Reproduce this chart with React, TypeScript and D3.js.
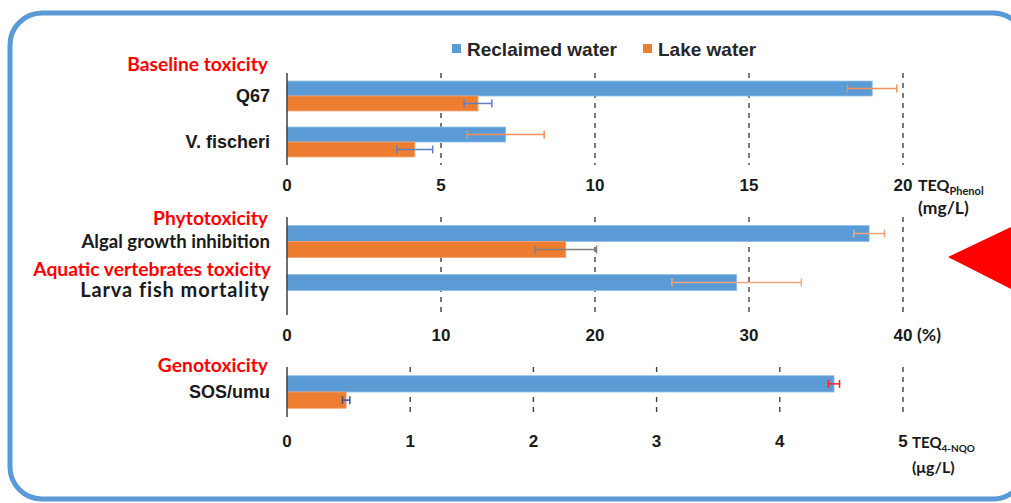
import * as d3 from "d3";

const seriesNames = ["Reclaimed water", "Lake water"];

// Baseline toxicity, TEQ phenol (mg/L)
const baselineCategories = ["Q67", "V. fischeri"];
const baselineReclaimed = [19.0, 7.1];
const baselineReclaimedSd = [0.8, 1.25];
const baselineLake = [6.2, 4.15];
const baselineLakeSd = [0.45, 0.58];
const baselineTicks = [0, 5, 10, 15, 20];

// Phytotoxicity / aquatic vertebrates toxicity (%)
const effectCategories = ["Algal growth inhibition", "Larva fish mortality"];
const effectReclaimed = [37.8, 29.2];
const effectReclaimedSd = [1.0, 4.2];
const effectLake = [18.1, 0];
const effectLakeSd = [2.0, 0];
const effectTicks = [0, 10, 20, 30, 40];

// Genotoxicity, TEQ 4-NQO (ug/L)
const genoCategories = ["SOS/umu"];
const genoReclaimed = [4.44];
const genoReclaimedSd = [0.045];
const genoLake = [0.48];
const genoLakeSd = [0.03];
const genoTicks = [0, 1, 2, 3, 4, 5];

const W = 1011;
const H = 503;
const X0 = 287;
const X1 = 903;
const BLUE = "#5b9bd5";
const ORANGE = "#ed7d31";
const ARIAL = "'Liberation Sans', Arial, sans-serif";
const CALIBRI = "Lato, 'Open Sans', sans-serif";

// the larva label is set larger than the others in the original
const labelSize: Record<string, number> = { "Larva fish mortality": 20 };
const labelSpacing: Record<string, number> = { "Larva fish mortality": 0.9 };

type PanelProps = {
  cats: string[];
  rec: number[];
  recSd: number[];
  lake: number[];
  lakeSd: number[];
  ticks: number[];
  top: number;
  bottom: number;
  tickY: number;
  recErr: string;
  lakeErr: string;
  labelFont: string;
};

function Panel(p: PanelProps) {
  const x = d3
    .scaleLinear()
    .domain([0, d3.max(p.ticks) as number])
    .range([X0, X1]);
  const y = d3
    .scaleBand()
    .domain(p.cats)
    .range([p.top, p.bottom])
    .paddingInner(0.35)
    .paddingOuter(0.175);
  const ys = d3.scaleBand().domain(seriesNames).range([0, y.bandwidth()]);

  const rows = p.cats.map((c, i) => ({
    cat: c,
    vals: [
      { s: seriesNames[0], v: p.rec[i], sd: p.recSd[i], fill: BLUE, edge: "#8fbde8", err: p.recErr },
      { s: seriesNames[1], v: p.lake[i], sd: p.lakeSd[i], fill: ORANGE, edge: "#f3a06c", err: p.lakeErr },
    ],
  }));

  return (
    <g>
      {p.ticks
        .filter((t) => t > 0)
        .map((t) => (
          <line
            key={"g" + t}
            x1={x(t)}
            x2={x(t)}
            y1={p.top}
            y2={p.bottom}
            stroke="#404040"
            strokeWidth={1.4}
            strokeDasharray="5,5"
          />
        ))}
      {rows.map((r) => (
        <g key={r.cat} transform={`translate(0,${y(r.cat)})`}>
          {r.vals.map((d) =>
            d.v > 0 ? (
              <g key={d.s}>
                <rect
                  x={x(0)}
                  y={ys(d.s)}
                  width={x(d.v) - x(0)}
                  height={ys.bandwidth()}
                  fill={d.fill}
                  stroke={d.edge}
                  strokeWidth={0.8}
                />
                {d.sd > 0 && (
                  <g
                    stroke={d.err}
                    strokeWidth={1.5}
                    transform={`translate(0,${(ys(d.s) as number) + ys.bandwidth() / 2})`}
                  >
                    <line x1={x(d.v - d.sd)} x2={x(d.v + d.sd)} y1={0} y2={0} />
                    <line x1={x(d.v - d.sd)} x2={x(d.v - d.sd)} y1={-4} y2={4} />
                    <line x1={x(d.v + d.sd)} x2={x(d.v + d.sd)} y1={-4} y2={4} />
                  </g>
                )}
              </g>
            ) : null
          )}
          <text
            x={270}
            y={y.bandwidth() / 2}
            dy="0.35em"
            textAnchor="end"
            fontFamily={p.labelFont}
            fontWeight="bold"
            fontSize={labelSize[r.cat] ?? (p.labelFont === ARIAL ? 18 : 18.6)}
            letterSpacing={labelSpacing[r.cat] ?? 0}
            fill="#1a1a1a"
          >
            {r.cat}
          </text>
        </g>
      ))}
      <line x1={X0} x2={X0} y1={p.top} y2={p.bottom} stroke="#404040" strokeWidth={1.5} />
      {p.ticks.map((t) => (
        <text
          key={"t" + t}
          x={x(t)}
          y={p.tickY}
          dy="0.35em"
          textAnchor="middle"
          fontFamily={ARIAL}
          fontWeight="bold"
          fontSize={17}
          fill="#1a1a1a"
        >
          {t}
        </text>
      ))}
    </g>
  );
}

function Header({ x, y, text }: { x: number; y: number; text: string }) {
  return (
    <text
      x={x}
      y={y}
      dy="0.35em"
      textAnchor="end"
      fontFamily={CALIBRI}
      fontWeight="bold"
      fontSize={19.3}
      fill="#ff0000"
    >
      {text}
    </text>
  );
}

export default function App() {
  const unitStyle = { fontFamily: CALIBRI, fontWeight: 700, fill: "#1a1a1a" } as const;
  return (
    <svg
      width={W}
      height={H}
      style={{ position: "absolute", left: 0, top: 0, display: "block", background: "#fff" }}
    >
      <rect x={10} y={13} width={1015} height={486} rx={32} fill="none" stroke={BLUE} strokeWidth={5} />
      <polygon points="948,257 1011,227 1011,289" fill="#ff0000" />

      {/* legend */}
      {seriesNames.map((s, i) => {
        const lx = i === 0 ? 452 : 643;
        return (
          <g key={s}>
            <rect x={lx} y={44} width={9} height={9} fill={i === 0 ? BLUE : ORANGE} />
            <text x={lx + 15} y={49} dy="0.35em" fontFamily={ARIAL} fontWeight="bold" fontSize={19} fill="#262626">
              {s}
            </text>
          </g>
        );
      })}

      <Header x={268} y={64} text="Baseline toxicity" />
      <Panel
        cats={baselineCategories}
        rec={baselineReclaimed}
        recSd={baselineReclaimedSd}
        lake={baselineLake}
        lakeSd={baselineLakeSd}
        ticks={baselineTicks}
        top={73}
        bottom={165}
        tickY={185}
        recErr="#f0905a"
        lakeErr="#5b7fc8"
        labelFont={ARIAL}
      />
      <text x={918} y={185} dy="0.35em" {...unitStyle} fontSize={16}>
        TEQ
        <tspan fontSize={11} dy={4}>
          Phenol
        </tspan>
      </text>
      <text x={918} y={208} dy="0.35em" {...unitStyle} fontSize={17.5}>
        (mg/L)
      </text>

      <Header x={268} y={218} text="Phytotoxicity" />
      <Header x={271} y={269} text="Aquatic vertebrates toxicity" />
      <Panel
        cats={effectCategories}
        rec={effectReclaimed}
        recSd={effectReclaimedSd}
        lake={effectLake}
        lakeSd={effectLakeSd}
        ticks={effectTicks}
        top={217}
        bottom={315}
        tickY={335}
        recErr="#f4a47a"
        lakeErr="#808080"
        labelFont={CALIBRI}
      />
      <text x={917} y={335} dy="0.35em" {...unitStyle} fontSize={17.5}>
        (%)
      </text>

      <Header x={268} y={365} text="Genotoxicity" />
      <Panel
        cats={genoCategories}
        rec={genoReclaimed}
        recSd={genoReclaimedSd}
        lake={genoLake}
        lakeSd={genoLakeSd}
        ticks={genoTicks}
        top={367}
        bottom={417}
        tickY={441}
        recErr="#ff2020"
        lakeErr="#2f5597"
        labelFont={ARIAL}
      />
      <text x={912} y={443} dy="0.35em" {...unitStyle} fontSize={15}>
        TEQ
        <tspan fontSize={10} dy={4}>
          4-NQO
        </tspan>
      </text>
      <text x={912} y={467} dy="0.35em" {...unitStyle} fontSize={16}>
        (μg/L)
      </text>
    </svg>
  );
}
